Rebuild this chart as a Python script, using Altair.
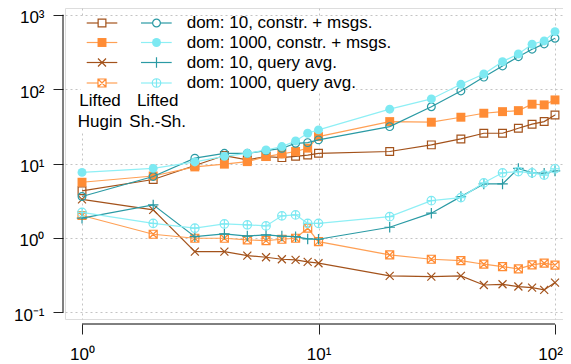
import altair as alt
import pandas as pd

# ---------------- data ----------------
x_vals = [1, 2, 3, 4, 5, 6, 7, 8, 9, 10, 20, 30, 40, 50, 60, 70, 80, 90, 100]

hugin_d10_constr = [4.3, 6.1, 9.4, 12.8, 11.2, 12.4, 12.0, 12.5, 13.0, 13.7,
                    14.5, 17.8, 21.4, 25.5, 25.5, 29.8, 33.8, 36.6, 45.0]
hugin_d1000_constr = [5.6, 6.8, 9.0, 9.8, 10.6, 12.4, 13.5, 14.5, 16.1, 23.0,
                      36.6, 35.9, 41.9, 47.4, 49.8, 51.4, 62.7, 61.4, 71.6]
hugin_d10_query = [3.3, 2.38, 0.655, 0.655, 0.578, 0.55, 0.517, 0.506, 0.476, 0.457,
                   0.309, 0.302, 0.309, 0.233, 0.238, 0.222, 0.215, 0.20, 0.251]
hugin_d1000_query = [2.0, 1.12, 0.99, 0.99, 0.94, 0.92, 0.96, 0.99, 1.35, 0.89,
                     0.59, 0.517, 0.496, 0.443, 0.412, 0.383, 0.434, 0.457, 0.43]
shsh_d10_constr = [3.6, 6.7, 11.8, 13.7, 13.7, 14.9, 16.0, 18.7, 19.1, 20.8,
                   31.3, 58.0, 94.6, 145.0, 205.0, 273.0, 344.0, 405.0, 483.0]
shsh_d1000_constr = [7.6, 8.6, 10.5, 12.5, 13.7, 15.2, 16.9, 20.1, 25.5, 28.3,
                     53.7, 73.8, 116.0, 160.0, 234.0, 297.0, 401.0, 444.0, 593.0]
shsh_d10_query = [1.84, 2.78, 1.04, 1.13, 1.06, 1.10, 1.06, 1.04, 0.97, 0.96,
                  1.39, 2.15, 3.59, 5.32, 5.32, 8.6, 7.5, 7.4, 7.94]
shsh_d1000_query = [2.2, 1.57, 1.35, 1.54, 1.50, 1.45, 1.98, 2.04, 1.57, 1.57,
                    1.93, 3.17, 3.48, 5.5, 7.5, 7.8, 7.5, 7.0, 8.5]

legend_labels = ["dom: 10, constr. + msgs.", "dom: 1000, constr. + msgs.",
                 "dom: 10, query avg.", "dom: 1000, query avg."]
group_labels = [["Lifted", "Hugin"], ["Lifted", "Sh.-Sh."]]

x_ticks = [1, 10, 100]
y_ticks = [0.1, 1, 10, 100, 1000]

# ---------------- styles ----------------
BROWN = "#a3521b"
ORANGE = "#ff8c35"
ORANGE_LINE = "#ffa055"
TEAL = "#2a9aa4"
CYAN = "#7de9f2"
CYAN_LINE = "#8eeff5"

P_X = "M-1,-1L1,1M1,-1L-1,1"
P_PLUS = "M-1,0L1,0M0,-1L0,1"
P_SQX = "M-1,-1L1,-1L1,1L-1,1Z M-1,-1L1,1M1,-1L-1,1"
P_CPLUS = "M-1,0A1,1 0 1,1 1,0A1,1 0 1,1 -1,0Z M-1,0L1,0M0,-1L0,1"

# (values, line colour, marker shape, marker colour, filled, size)
series = [
    (hugin_d10_constr, BROWN, "square", BROWN, False, 60),
    (hugin_d1000_constr, ORANGE_LINE, "square", ORANGE, True, 80),
    (hugin_d10_query, BROWN, P_X, BROWN, False, 64),
    (hugin_d1000_query, ORANGE_LINE, P_SQX, ORANGE, False, 64),
    (shsh_d10_constr, TEAL, "circle", TEAL, False, 60),
    (shsh_d1000_constr, CYAN_LINE, "circle", CYAN, True, 80),
    (shsh_d10_query, TEAL, P_PLUS, TEAL, False, 110),
    (shsh_d1000_query, CYAN_LINE, P_CPLUS, CYAN, False, 72),
]

W, H = 498, 311
FONT = "Liberation Sans"

label_expr = ("datum.value >= 500 ? '10³' : datum.value >= 50 ? '10²' : "
              "datum.value >= 5 ? '10¹' : datum.value >= 0.5 ? '10⁰' : '10⁻¹'")

xscale = alt.Scale(type="log", domain=[0.8474, 108.1], nice=False)
yscale = alt.Scale(type="log", domain=[0.0813, 1231], nice=False)

common_axis = dict(grid=True, gridColor="#c4c4c4", gridDash=[2, 3], gridWidth=1,
                   domain=False, ticks=True, tickSize=10, tickColor="#222",
                   tickWidth=1, labelFont=FONT, labelFontSize=17, labelColor="#000",
                   labelExpr=label_expr, title=None)
xaxis = alt.Axis(values=x_ticks, offset=5, labelPadding=12,
                 labelOffset={"condition": {"test": "datum.value >= 50", "value": -5},
                              "value": 0},
                 **common_axis)
yaxis = alt.Axis(values=y_ticks, offset=2, labelPadding=9, labelBaseline="middle",
                 labelOffset=3, **common_axis)

X = alt.X("x:Q", scale=xscale, axis=xaxis)
Y = alt.Y("y:Q", scale=yscale, axis=yaxis)

layers = []
one = pd.DataFrame({"a": [0]})

# axis lines that span 10^0..10^2 and 10^-1..10^3 only
xline = pd.DataFrame({"x": [x_ticks[0]], "x2": [x_ticks[-1]]})
yline = pd.DataFrame({"y": [y_ticks[0]], "y2": [y_ticks[-1]]})
layers.append(alt.Chart(xline).mark_rule(color="#000", strokeWidth=1).encode(
    x=X, x2="x2:Q", y=alt.value(H + 5)))
layers.append(alt.Chart(yline).mark_rule(color="#000", strokeWidth=1).encode(
    y=Y, y2="y2:Q", x=alt.value(-2)))

# legend background boxes
layers.append(alt.Chart(one).mark_rect(color="white").encode(
    x=alt.value(16), x2=alt.value(291), y=alt.value(8), y2=alt.value(85)))
layers.append(alt.Chart(one).mark_rect(color="white").encode(
    x=alt.value(16), x2=alt.value(122), y=alt.value(82), y2=alt.value(123)))

# data
for vals, lc, shape, mc, filled, size in series:
    df = pd.DataFrame({"x": x_vals, "y": vals})
    layers.append(alt.Chart(df).mark_line(color=lc, strokeWidth=1.2).encode(x=X, y=Y))
    if filled:
        pt = alt.Chart(df).mark_point(shape=shape, filled=True, color=mc, size=size, opacity=1)
    else:
        pt = alt.Chart(df).mark_point(shape=shape, filled=False, stroke=mc, fill=None,
                                      strokeWidth=1.2, size=size, opacity=1)
    layers.append(pt.encode(x=X, y=Y))

# legend
row_y = [15, 34.5, 54.5, 75]
col_line = [(21.7, 52.3, 37), (76, 106.7, 91.5)]
for i, label in enumerate(legend_labels):
    for c in range(2):
        vals, lc, shape, mc, filled, size = series[c * 4 + i]
        x1, x2, xm = col_line[c]
        layers.append(alt.Chart(one).mark_rule(color=lc, strokeWidth=1.2).encode(
            x=alt.value(x1), x2=alt.value(x2), y=alt.value(row_y[i])))
        if filled:
            pt = alt.Chart(one).mark_point(shape=shape, filled=True, color=mc, size=size, opacity=1)
        else:
            pt = alt.Chart(one).mark_point(shape=shape, filled=False, stroke=mc, fill="white",
                                           strokeWidth=1.2, size=size, opacity=1)
        layers.append(pt.encode(x=alt.value(xm), y=alt.value(row_y[i])))
    layers.append(alt.Chart(one).mark_text(align="left", baseline="middle", font=FONT,
                                           fontSize=17, color="#000", text=label).encode(
        x=alt.value(121.7), y=alt.value(row_y[i])))

group_x = [35, 92.7]
for gx, lines in zip(group_x, group_labels):
    for j, t in enumerate(lines):
        layers.append(alt.Chart(one).mark_text(align="center", baseline="middle", font=FONT,
                                               fontSize=17, color="#000", text=t).encode(
            x=alt.value(gx), y=alt.value(92.7 + 21 * j)))

chart = alt.layer(*layers).properties(
    width=W, height=H,
    autosize=alt.AutoSizeParams(type="none"),
    padding={"left": 57, "top": 0, "right": 0, "bottom": 45},
).configure_view(stroke=None).configure(background="white")

chart.save("out.html", embed_options={"renderer": "svg", "actions": False})
